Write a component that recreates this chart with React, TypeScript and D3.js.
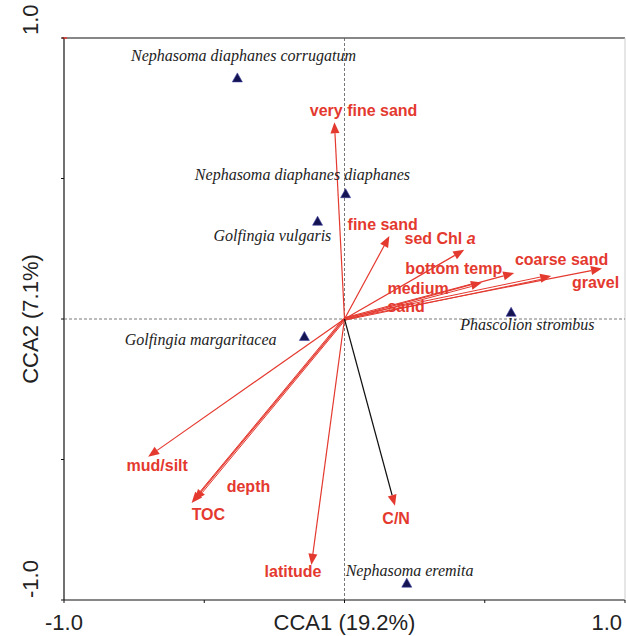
import React from "react";
import * as d3 from "d3";

const envNames = ["very fine sand", "fine sand", "sed Chl a", "bottom temp", "medium sand", "coarse sand", "gravel", "mud/silt", "TOC", "depth", "latitude", "C/N"];
const envX = [-0.036, 0.16, 0.427, 0.605, 0.49, 0.737, 0.918, -0.70, -0.545, -0.535, -0.118, 0.18];
const envY = [0.70, 0.295, 0.246, 0.164, 0.13, 0.153, 0.18, -0.49, -0.655, -0.645, -0.875, -0.665];
// label anchor positions (in CCA units)
const envLabelX = [0.068, 0.011, 0.214, 0.217, 0.153, 0.774, 0.895, -0.777, -0.545, -0.42, -0.285, 0.135];
const envLabelY = [0.722, 0.317, 0.267, 0.16, 0.089, 0.192, 0.11, -0.541, -0.715, -0.616, -0.918, -0.73];
const envLine2 = ["medium", "sand"];

const spNames = ["Nephasoma diaphanes corrugatum", "Nephasoma diaphanes diaphanes", "Golfingia vulgaris", "Golfingia margaritacea", "Phascolion strombus", "Nephasoma eremita"];
const spX = [-0.382, 0.004, -0.096, -0.143, 0.594, 0.222];
const spY = [0.858, 0.446, 0.348, -0.062, 0.024, -0.94];
const spLabelX = [-0.36, -0.15, -0.257, -0.513, 0.652, 0.232];
const spLabelY = [0.918, 0.495, 0.278, -0.093, -0.039, -0.915];

const xTicks = [-1, -0.5, 0, 0.5, 1];
const yTicks = [-1, -0.5, 0, 0.5, 1];

const RED = "#e4392f";

export default function App() {
  const x = d3.scaleLinear().domain([-1, 1]).range([64, 625]);
  const y = d3.scaleLinear().domain([-1, 1]).range([600, 38]);
  const ox = x(0), oy = y(0);

  const arrow = (i: number) => {
    const x2 = x(envX[i]), y2 = y(envY[i]);
    const dx = x2 - ox, dy = y2 - oy;
    const len = Math.hypot(dx, dy);
    const ux = dx / len, uy = dy / len;
    const L = 11, W = 4.5;
    const bx = x2 - ux * L, by = y2 - uy * L;
    const pts = [[x2, y2], [bx - uy * W, by + ux * W], [bx + uy * W, by - ux * W]];
    const isCN = envNames[i] === "C/N";
    const dbl = ["coarse sand", "depth", "medium sand"].includes(envNames[i]);
    return (
      <g key={i}>
        {dbl ? (
          <>
            <line x1={ox - uy * 1.2} y1={oy + ux * 1.2} x2={bx - uy * 1.2} y2={by + ux * 1.2} stroke={RED} strokeWidth={1} />
            <line x1={ox + uy * 1.2} y1={oy - ux * 1.2} x2={bx + uy * 1.2} y2={by - ux * 1.2} stroke={RED} strokeWidth={1} />
          </>
        ) : (
          <line x1={ox} y1={oy} x2={bx} y2={by} stroke={isCN ? "#111" : RED} strokeWidth={1.2} />
        )}
        <polygon points={pts.map((p) => p.join(",")).join(" ")} fill={RED} />
      </g>
    );
  };

  return (
    <svg width={626} height={636} style={{ position: "absolute", left: 0, top: 0 }}>
      <rect width={626} height={636} fill="#fff" />
      {/* frame */}
      <line x1={64} y1={38} x2={625} y2={38} stroke="#111" strokeWidth={1.2} />
      <line x1={64} y1={38} x2={64} y2={600} stroke="#111" strokeWidth={1.2} />
      <line x1={64} y1={600} x2={625} y2={600} stroke="#111" strokeWidth={1.2} />
      <line x1={625} y1={38} x2={625} y2={600} stroke="#ccc" strokeWidth={1} />
      <line x1={62} y1={38} x2={67} y2={38} stroke={RED} strokeWidth={1.5} />
      {/* dashed zero lines */}
      <line x1={64} y1={oy} x2={625} y2={oy} stroke="#555" strokeWidth={0.8} strokeDasharray="3,2" />
      <line x1={ox} y1={38} x2={ox} y2={600} stroke="#555" strokeWidth={0.8} strokeDasharray="3,2" />
      {/* ticks */}
      {xTicks.map((t) => (
        <line key={"xt" + t} x1={x(t)} y1={600} x2={x(t)} y2={603} stroke="#111" />
      ))}
      {yTicks.map((t) => (
        <line key={"yt" + t} x1={61} y1={y(t)} x2={64} y2={y(t)} stroke="#111" />
      ))}
      {/* axis labels */}
      <g fontFamily="Liberation Sans, Arial, sans-serif" fontSize={22} fill="#222">
        <text x={x(-1)} y={630} textAnchor="middle">-1.0</text>
        <text x={x(1) - 3} y={630} textAnchor="end">1.0</text>
        <text x={x(0)} y={630} textAnchor="middle">CCA1 (19.2%)</text>
        <text transform={`translate(38,${y(1) - 3}) rotate(-90)`} textAnchor="start">1.0</text>
        <text transform={`translate(38,${y(-1) - 2}) rotate(-90)`} textAnchor="start">-1.0</text>
        <text transform={`translate(38,${oy}) rotate(-90)`} textAnchor="middle">CCA2 (7.1%)</text>
      </g>
      {/* arrows */}
      {envNames.map((_, i) => arrow(i))}
      {/* env labels */}
      <g fontFamily="Liberation Sans, Arial, sans-serif" fontSize={16} fontWeight="bold" fill={RED}>
        {envNames.map((n, i) => {
          if (n === "medium sand") {
            return (
              <g key={n}>
                <text x={x(envLabelX[i])} y={y(envLabelY[i])}>{envLine2[0]}</text>
                <text x={x(envLabelX[i])} y={y(envLabelY[i]) + 18}>{envLine2[1]}</text>
              </g>
            );
          }
          if (n === "sed Chl a") {
            return (
              <text key={n} x={x(envLabelX[i])} y={y(envLabelY[i])}>
                sed Chl <tspan fontStyle="italic">a</tspan>
              </text>
            );
          }
          const anchor = n === "gravel" || n === "very fine sand" || n === "coarse sand" ? "middle" : "start";
          return (
            <text key={n} x={x(envLabelX[i])} y={y(envLabelY[i])} textAnchor={anchor}>{n}</text>
          );
        })}
      </g>
      {/* species */}
      {spNames.map((n, i) => {
        const cx = x(spX[i]), cy = y(spY[i]);
        return (
          <polygon key={n} points={`${cx},${cy - 5} ${cx - 5},${cy + 4} ${cx + 5},${cy + 4}`} fill="#141452" stroke="#3a3aa0" strokeWidth={0.6} />
        );
      })}
      <g fontFamily="Liberation Serif, Times New Roman, serif" fontSize={16} fontStyle="italic" fill="#222">
        {spNames.map((n, i) => (
          <text key={n} x={x(spLabelX[i])} y={y(spLabelY[i])} textAnchor="middle">{n}</text>
        ))}
      </g>
    </svg>
  );
}
